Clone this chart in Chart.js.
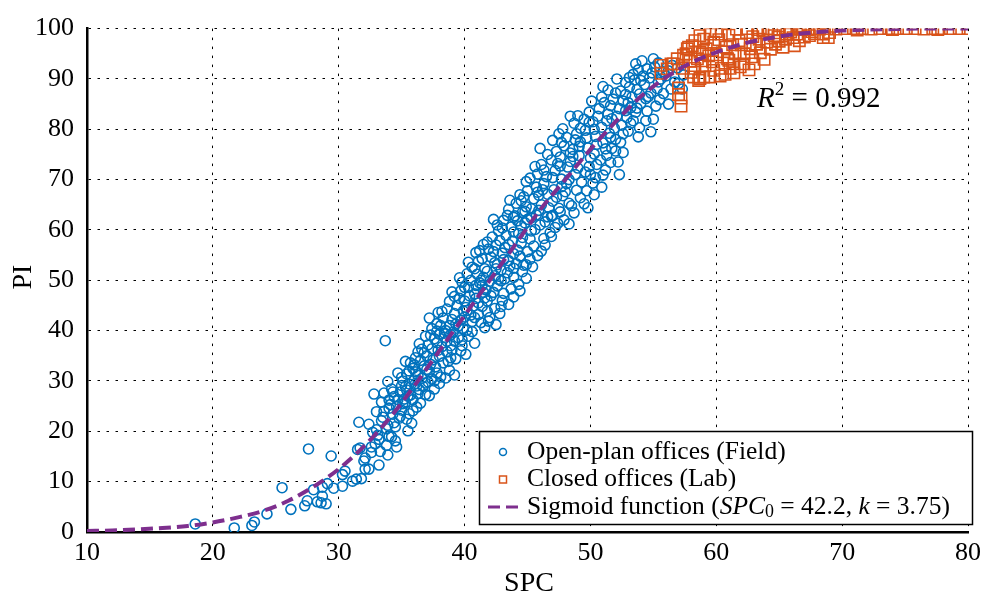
<!DOCTYPE html>
<html>
<head>
<meta charset="utf-8">
<script src="https://cdn.jsdelivr.net/npm/chart.js@4.4.1/dist/chart.umd.min.js"></script>
<style>
  body { margin: 0; background: #fff; }
  canvas { display: block; }
</style>
</head>
<body>
<canvas id="myChart" width="987" height="597"></canvas>
<script>
// Open-plan offices (Field): [SPC, PI]
const openPlan = [
  [18.6,1.6],[21.7,0.8],[23.1,1.3],[23.3,2.0],[24.3,3.6],[25.5,8.8],[26.2,4.5],[27.6,16.5],[27.3,5.2],[27.5,6.2],
  [28.0,8.4],[28.3,6.0],[28.6,5.8],[29.0,5.6],[28.7,7.1],[28.7,8.9],[29.1,9.6],[29.4,15.1],[29.6,8.7],[30.3,9.1],
  [30.3,11.4],[30.5,12.1],[31.1,10.1],[31.4,10.5],[31.8,10.6],[31.6,21.8],[32.4,21.4],[32.1,12.5],[32.4,12.5],[32.8,27.4],
  [33.6,27.6],[31.5,16.4],[31.7,16.7],[32.1,14.7],[32.0,14.1],[34.5,18.1],[35.0,30.7],[35.3,28.9],[35.5,20.1],[33.7,38.0],
  [32.9,17.5],[33.1,19.2],[33.3,16.0],[33.5,22.8],[33.8,20.5],[34.0,24.6],[34.2,18.9],[34.4,21.7],[34.7,26.3],[34.9,23.0],
  [33.9,15.3],[33.0,23.9],[34.6,16.9],[35.1,25.5],[35.4,22.4],[35.7,27.2],[35.9,24.1],[36.1,29.5],[33.4,25.8],[32.7,19.8],
  [32.6,15.8],[33.2,13.3],[34.3,27.8],
  [33.0,20.3],[33.4,22.1],[33.9,21.2],[34.3,23.4],[34.8,22.6],[33.6,24.0],[34.1,25.3],[35.0,24.2],[35.6,23.5],[34.5,20.9],
  [35.2,26.4],[33.2,18.4],[34.0,19.0],[32.6,16.9],[33.8,17.2],[35.8,21.6],
  [34.4,26.9],[34.9,27.8],[35.4,28.2],[35.9,26.3],[36.3,27.5],[36.7,28.9],[35.6,29.4],[36.0,30.2],[37.1,29.8],[37.6,28.4],
  [34.2,28.4],[36.5,25.6],[35.3,25.7],
  [35.4,31.4],[35.9,32.5],[36.3,31.1],[36.8,33.0],[37.2,31.9],[37.7,32.8],[38.1,30.8],[36.5,34.1],[37.0,35.0],[37.5,34.2],
  [38.3,33.6],[38.8,32.1],[35.7,33.6],[36.2,29.0],[39.2,31.2],[37.9,36.1],
  [36.6,36.3],[37.1,37.2],[37.6,38.4],[38.2,36.8],[38.6,37.9],[39.0,36.2],[39.5,38.6],[38.0,39.3],[38.5,40.0],[39.1,39.7],
  [39.8,37.0],[40.3,38.9],[37.3,39.1],[36.9,38.9],[40.1,35.3],[38.9,34.6],
  [37.8,41.4],[38.3,42.5],[38.8,41.0],[39.2,43.4],[39.7,42.1],[40.2,44.0],[40.6,41.8],[41.1,43.2],[41.6,40.6],[39.4,45.0],
  [40.0,45.9],[40.9,46.4],[41.4,44.8],[42.0,42.6],[42.5,41.2],[38.6,44.3],[37.9,43.6],[39.9,40.4],
  [39.2,46.8],[39.7,47.9],[40.3,48.6],[40.8,47.3],[41.2,49.5],[41.7,48.1],[42.1,46.9],[42.6,48.9],[43.1,47.4],[40.5,50.0],
  [41.0,51.2],[41.5,50.6],[42.4,50.9],[42.9,49.9],[43.4,51.5],[39.8,49.6],[43.7,48.3],[40.1,44.6],
  [40.6,52.6],[41.1,53.8],[41.6,52.3],[42.1,54.6],[42.6,53.1],[43.0,55.4],[43.5,53.9],[43.9,52.4],[44.4,54.8],[41.9,56.2],
  [42.5,57.0],[43.2,56.5],[43.8,57.8],[44.2,56.0],[44.7,53.0],[40.9,55.5],[45.0,55.7],[41.4,49.0],
  [42.2,58.6],[42.7,59.8],[43.3,58.9],[43.7,60.6],[44.3,59.3],[44.8,61.4],[45.2,58.2],[45.6,60.1],[43.1,61.9],[44.0,62.8],
  [44.6,63.5],[45.3,62.4],[45.9,63.9],[46.4,61.6],[46.8,59.5],[42.6,61.0],[47.0,62.9],[41.8,57.6],[46.4,57.0],[44.9,53.1],
  [43.5,64.1],[44.1,65.3],[44.9,64.6],[45.5,66.2],[46.1,65.0],[46.6,67.1],[47.0,65.7],[47.5,64.3],[45.0,67.8],[45.7,68.5],
  [46.3,69.2],[47.1,68.0],[47.8,66.8],[48.3,65.3],[48.7,63.4],[44.4,67.0],[43.9,62.5],[48.9,67.9],[47.2,60.5],[44.7,66.6],
  [45.2,70.3],[45.8,71.1],[46.5,70.6],[47.2,71.8],[47.7,70.1],[48.2,72.5],[48.8,71.0],[49.3,69.5],[49.7,67.8],[46.1,73.0],
  [46.9,73.9],[47.6,74.5],[48.4,73.6],[49.1,74.8],[49.9,72.6],[50.4,70.4],[46.0,76.2],[50.9,68.5],[51.2,71.9],
  [47.3,75.6],[47.9,76.7],[48.6,76.0],[49.2,77.5],[49.8,76.3],[50.3,75.1],[50.8,73.9],[51.3,74.8],[48.1,78.4],[48.9,79.1],
  [49.6,79.8],[50.4,78.6],[51.0,77.3],[51.7,76.2],[52.2,73.5],[47.0,77.8],[52.6,75.4],
  [48.7,81.2],[49.5,82.0],[50.2,81.5],[50.9,80.4],[51.5,79.2],[52.0,78.0],[52.5,80.8],[53.0,79.6],[49.9,83.4],[50.7,84.1],
  [51.4,83.0],[52.1,82.6],[52.8,83.7],[53.4,81.7],[53.9,80.3],[51.1,85.3],[51.8,86.0],[52.6,85.6],[53.3,86.4],[54.0,85.1],
  [54.5,83.6],[55.0,82.0],[55.5,85.9],[53.2,84.3],
  [52.4,87.6],[53.1,88.4],[53.7,87.9],[54.3,88.9],[54.8,87.2],[55.3,88.1],[53.5,89.8],[54.2,90.6],[54.9,91.2],[55.6,90.0],
  [56.2,91.6],[56.7,89.4],[55.1,92.4],[55.8,91.4],[57.0,89.1],[54.6,86.5],[56.4,88.0],[57.4,90.8],[56.9,92.2],
  [34.0,26.2],[35.5,27.0],[36.2,24.8],[36.9,27.3],[35.0,29.1],[34.6,24.9],[36.4,28.3],[37.2,27.1],
  [35.1,30.0],[36.6,30.5],[37.4,30.4],[38.0,29.5],[36.1,31.8],[37.0,32.3],[37.8,31.6],[38.5,30.6],[35.6,32.0],[36.9,29.6],[38.7,33.9],
  [36.1,34.6],[36.8,35.6],[37.4,36.4],[38.0,34.9],[38.6,35.8],[39.3,34.4],[37.8,37.6],[38.4,38.7],[39.2,37.9],[36.4,37.4],[39.8,38.2],[37.3,33.3],
  [37.4,40.4],[38.1,41.0],[38.9,39.2],[39.5,40.9],[40.2,40.1],[40.8,42.6],[39.0,42.2],[39.9,43.9],[40.5,43.1],[41.3,41.6],[38.4,39.5],[41.8,43.8],[37.2,42.5],
  [38.8,45.8],[39.6,46.4],[40.4,46.9],[41.1,45.5],[41.8,45.9],[42.4,44.4],[40.7,44.9],[41.5,47.6],[42.3,47.6],[43.0,46.0],[39.0,47.7],[43.5,45.2],[40.0,48.6],[42.8,43.4],
  [40.2,51.3],[40.9,49.0],[41.8,51.8],[42.5,52.3],[43.2,50.3],[43.9,50.6],[44.3,49.2],[41.3,50.0],[42.0,49.8],[40.8,52.3],[43.6,52.8],[44.6,51.7],[39.6,50.5],
  [41.4,54.3],[42.3,55.7],[43.1,54.1],[43.9,55.3],[44.5,57.4],[45.2,54.2],[42.8,57.9],[41.5,57.1],[44.1,53.3],[45.5,56.8],[42.4,53.5],[43.5,57.1],[45.8,54.9],
  [43.0,60.4],[43.9,59.6],[44.5,60.8],[45.3,59.8],[46.0,61.0],[46.6,62.6],[44.2,61.8],[45.7,63.0],[47.4,61.3],[43.4,62.9],[46.3,58.3],[45.0,62.1],[47.6,63.6],
  [44.5,65.8],[45.3,64.2],[45.9,66.9],[46.7,64.4],[47.3,66.5],[48.0,67.6],[48.5,64.8],[46.2,68.0],[47.7,68.6],[49.2,66.4],[44.8,63.7],[49.5,65.2],[46.9,62.7],
  [46.3,71.9],[47.0,70.4],[47.6,72.7],[48.3,70.0],[49.0,72.3],[49.6,71.5],[50.2,69.3],[47.4,73.2],[48.6,74.6],[50.5,73.0],[45.6,72.6],[51.0,70.9],[48.1,69.2],
  [47.7,77.4],[48.4,75.3],[49.1,76.6],[49.7,78.3],[50.5,77.0],[51.2,76.1],[52.0,75.7],[50.0,74.3],[48.8,77.9],[51.6,78.4],[52.4,77.4],[47.5,79.1],
  [49.2,80.2],[49.9,81.4],[50.6,82.6],[51.3,81.7],[51.9,80.2],[52.6,79.1],[53.2,81.2],[50.3,80.0],[51.7,82.1],[52.9,82.3],[49.0,82.7],[53.6,83.4],
  [50.9,86.4],[51.6,84.7],[52.3,84.1],[53.0,85.3],[53.7,84.2],[54.4,86.1],[52.0,87.2],[52.8,86.9],[53.9,87.0],[55.2,84.6],[51.4,87.8],
  [52.8,89.3],[53.4,90.9],[54.0,89.7],[54.7,90.2],[55.4,89.4],[53.8,91.8],[54.5,92.0],[56.0,90.6],[55.4,93.2],[56.5,92.7],[53.1,90.3],
  [36.0,33.2],[37.6,30.0],[38.9,37.0],[39.7,36.0],[40.6,39.8],[38.2,43.8],[41.9,41.9],[42.9,44.8],[43.9,46.7],[44.4,47.9],
  [40.0,42.7],[39.3,41.3],[41.6,46.5],[42.7,50.2],[44.9,50.4],[45.4,52.7],[40.3,53.6],[41.2,55.9],[42.9,52.0],[44.6,58.5],
  [46.1,55.8],[46.9,58.7],[42.3,62.1],[43.6,65.9],[45.8,67.5],[47.9,62.0],[48.3,61.2],[49.8,64.4],[50.3,67.0],[44.9,69.6],
  [46.6,75.0],[50.0,71.0],[51.6,73.4],[52.3,71.0],[47.8,80.1],[48.4,82.6],[50.1,85.6],[53.8,78.5],[54.4,81.7],[54.8,79.5],
  [51.0,88.5],[52.1,90.0],[55.8,87.1],[56.2,85.0],[53.6,93.0],[54.1,93.6],[57.3,88.0],[55.0,94.0],[35.3,33.9],[36.3,35.8],
  [34.7,31.6],[33.9,29.9],[37.8,39.9],[40.8,37.5]
];

// Closed offices (Lab): [SPC, PI]
const closedLab = [
  [55.6,92.7],[55.6,91.1],[56.6,93.0],[57.0,88.2],[57.2,86.2],[57.2,84.6],[57.0,86.9],[57.4,94.7],[57.6,95.0],[57.8,96.3],
  [58.1,96.6],[58.7,98.6],[58.9,95.0],[58.7,95.3],[58.3,92.1],[58.2,90.4],[58.7,90.1],[59.0,90.4],[59.5,98.9],[59.8,97.3],
  [59.7,93.4],[59.8,91.7],[59.5,90.4],[60.4,98.9],[60.8,96.3],[60.4,92.1],[61.0,93.7],[61.1,92.1],[61.6,99.9],[61.8,97.6],
  [61.5,95.0],[62.2,95.0],[62.2,93.0],[61.9,92.4],[62.4,99.2],[63.0,93.0],[63.2,96.9],[63.7,99.5],[64.0,97.3],[64.4,99.9],
  [64.7,96.9],[65.3,96.3],[65.6,98.9],[66.2,96.6],[66.1,98.2],[66.4,98.9],[66.9,99.9],[67.4,98.6],[68.2,99.9],[68.5,98.9],
  [68.5,98.2],[68.9,98.2],[69.0,99.2],[56.4,93.0],[57.7,96.0],[56.1,92.0],[60.0,94.8],[60.6,95.4],[61.3,96.8],[62.7,96.0],
  [63.5,95.2],[62.9,98.4],[60.2,97.8],[59.2,96.0],[58.5,94.0],[57.9,93.5],[64.9,98.3],[65.9,99.3],[67.8,99.0],[63.8,93.9],
  [62.6,91.8],[60.3,90.6],[59.1,92.6],[58.0,91.3],[58.9,93.6],[59.4,94.6],[60.9,94.0],[61.4,93.0],[62.0,96.8],[62.8,94.4],
  [63.4,97.9],[64.3,95.9],[64.6,98.6],[65.0,97.5],[65.5,97.9],[66.6,97.6],[67.0,98.3],[67.6,99.4],[61.0,98.7],[60.0,99.4],
  [59.0,97.9],[58.3,97.6],[57.3,92.1],[56.9,94.0],[58.6,89.7],[60.7,90.9],[61.4,91.2],
  [62.5,100],[63.3,99.8],[64.1,100],[65.0,99.9],[65.8,100],[66.6,100],[67.3,99.8],[68.0,100],[68.8,100],[69.5,99.9],
  [70.2,100],[70.9,100],[71.6,100],[72.3,99.9],[73.0,100],[73.7,100],[74.4,100],[75.1,100],[75.8,100],[76.5,99.9],
  [77.2,100],[77.9,100],[78.6,100],[79.3,100],[80.0,100],[71.2,99.7],[74.0,99.8],[77.6,99.8]
];

// Sigmoid fit
const fitSPC = [10,12,14,16,18,20,22,24,26,28,30,32,34,36,38,40,42,44,46,48,50,52,54,56,58,60,62,64,66,68,70,72,74,76,78,80];
const fitPI = [0.2,0.3,0.5,0.8,1.2,1.9,2.9,4.2,6.2,9,12.5,17,22.5,29,36,43,50,57,64,70,76,81.5,86.5,90.3,93.2,95.3,96.9,98,98.8,99.3,99.6,99.8,99.9,100,100,100];

const seriesNames = ['Open-plan offices (Field)', 'Closed offices (Lab)'];
const r2Value = 0.992;
const spc0 = 42.2;
const kValue = 3.75;

const blue = '#0072BD';
const orange = '#D95319';
const purple = '#7E2F8E';
const serif = '"Liberation Serif", "Times New Roman", serif';

// draws a row of text pieces (some italic / subscripts), returns end x
const drawRuns = (ctx, x, y, size, runs) => {
  runs.forEach((r) => {
    const s = size * (r.scale || 1);
    ctx.font = (r.italic ? 'italic ' : '') + s + 'px ' + serif;
    ctx.fillText(r.t, x, y + (r.dy || 0));
    x += ctx.measureText(r.t).width;
  });
  return x;
};

const overlayPlugin = {
  id: 'overlay',
  afterDraw(chart) {
    const ctx = chart.ctx;
    ctx.save();
    ctx.fillStyle = '#000';
    ctx.textBaseline = 'middle';

    // axis titles
    ctx.textAlign = 'center';
    ctx.font = '28px ' + serif;
    ctx.fillText('SPC', 529, 584);
    ctx.save();
    ctx.translate(24, 277);
    ctx.rotate(-Math.PI / 2);
    ctx.fillText('PI', 0, 0);
    ctx.restore();

    // R^2 label
    ctx.textAlign = 'left';
    ctx.textBaseline = 'alphabetic';
    drawRuns(ctx, 757, 107, 29, [
      { t: 'R', italic: true },
      { t: '2', scale: 0.66, dy: -12 },
      { t: ' = ' + r2Value },
    ]);

    // legend box
    const box = { x: 479.5, y: 431.5, w: 493, h: 93 };
    ctx.fillStyle = '#fff';
    ctx.fillRect(box.x, box.y, box.w, box.h);
    ctx.strokeStyle = '#000';
    ctx.lineWidth = 1.5;
    ctx.strokeRect(box.x, box.y, box.w, box.h);

    const rows = [452, 479.5, 507];
    const mx = 503;
    ctx.lineWidth = 1.5;
    ctx.strokeStyle = blue;
    ctx.beginPath();
    ctx.arc(mx, rows[0], 3.5, 0, Math.PI * 2);
    ctx.stroke();
    ctx.strokeStyle = orange;
    ctx.strokeRect(mx - 3.5, rows[1] - 3.5, 7, 7);
    ctx.strokeStyle = purple;
    ctx.lineWidth = 3;
    ctx.beginPath();
    ctx.moveTo(488, rows[2]); ctx.lineTo(500, rows[2]);
    ctx.moveTo(506, rows[2]); ctx.lineTo(518, rows[2]);
    ctx.stroke();

    ctx.fillStyle = '#000';
    ctx.textBaseline = 'middle';
    const tx = 527;
    const fs = 25.5;
    drawRuns(ctx, tx, rows[0], fs, [{ t: seriesNames[0] }]);
    drawRuns(ctx, tx, rows[1], fs, [{ t: seriesNames[1] }]);
    drawRuns(ctx, tx, rows[2], fs, [
      { t: 'Sigmoid function (' },
      { t: 'SPC', italic: true },
      { t: '0', scale: 0.7, dy: 5 },
      { t: ' = ' + spc0 + ', ' },
      { t: 'k', italic: true },
      { t: ' = ' + kValue + ')' },
    ]);
    ctx.restore();
  },
};

const axisStyle = {
  grid: { color: '#000', lineWidth: 1, drawTicks: false },
  border: { display: true, color: '#000', width: 2.5, dash: [2.5, 6.5] },
};

new Chart(document.getElementById('myChart'), {
  type: 'scatter',
  data: {
    datasets: [
      {
        label: 'Sigmoid function',
        type: 'line',
        data: fitSPC.map((x, i) => ({ x: x, y: fitPI[i] })),
        borderColor: purple,
        borderWidth: 4,
        borderDash: [12, 6],
        pointRadius: 0,
        fill: false,
        cubicInterpolationMode: 'monotone',
        order: 0,
      },
      {
        label: seriesNames[1],
        data: closedLab.map(([x, y]) => ({ x: x, y: y })),
        pointStyle: 'rect',
        pointRadius: 8,
        borderWidth: 1.6,
        borderColor: orange,
        backgroundColor: 'rgba(0,0,0,0)',
        order: 1,
      },
      {
        label: seriesNames[0],
        data: openPlan.map(([x, y]) => ({ x: x, y: y })),
        pointStyle: 'circle',
        pointRadius: 5,
        borderWidth: 1.6,
        borderColor: blue,
        backgroundColor: 'rgba(0,0,0,0)',
        order: 2,
      },
    ],
  },
  options: {
    responsive: false,
    animation: false,
    devicePixelRatio: 1,
    layout: { padding: { left: 0, right: 14.5, top: 19, bottom: 0 } },
    scales: {
      x: {
        type: 'linear',
        min: 10,
        max: 80,
        ...axisStyle,
        ticks: { stepSize: 10, color: '#000', padding: 6, font: { family: serif, size: 26 } },
        afterFit(scale) { scale.height = 65; },
      },
      y: {
        type: 'linear',
        min: 0,
        max: 100,
        ...axisStyle,
        ticks: { stepSize: 10, color: '#000', padding: 13, font: { family: serif, size: 26 } },
        afterFit(scale) { scale.width = 87; },
      },
    },
    plugins: {
      legend: { display: false },
      tooltip: { enabled: false },
    },
  },
  plugins: [overlayPlugin],
});
</script>
</body>
</html>
